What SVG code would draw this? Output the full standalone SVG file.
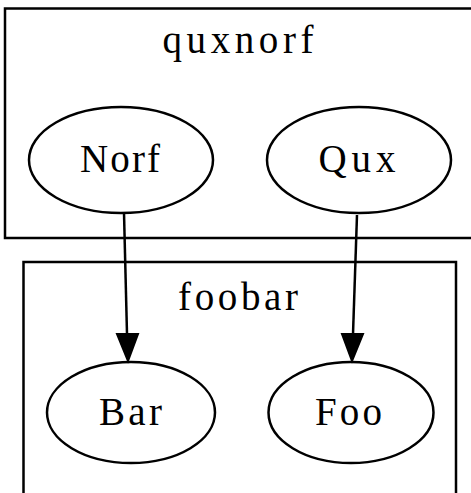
<svg xmlns="http://www.w3.org/2000/svg" width="471" height="493" viewBox="0 0 471 493">
<defs>
<style>
.cl{fill:none;stroke:#000;stroke-width:2.5}
.nd{fill:none;stroke:#000;stroke-width:2.5}
.t{font-family:"Liberation Serif","Times New Roman",serif;font-size:39px;fill:#000;text-anchor:middle}
.e{fill:none;stroke:#000;stroke-width:2.5}
.ah{fill:#000;stroke:#000;stroke-width:2}
</style>
</defs>
<rect width="471" height="493" fill="#fff"/>
<g id="cluster_quxnorf">
<rect class="cl" x="5" y="8.5" width="480" height="229.5"/>
<text class="t" x="238" y="53" textLength="151" lengthAdjust="spacing">quxnorf</text>
</g>
<g id="cluster_foobar">
<rect class="cl" x="23.5" y="262" width="432.5" height="245"/>
<text class="t" x="238" y="310" textLength="120" lengthAdjust="spacing">foobar</text>
</g>
<g id="connectors">
<path class="e" d="M124,213 L127,334"/>
<polygon class="ah" points="117,334 138,334 128,361"/>
<path class="e" d="M357,215 L353,334"/>
<polygon class="ah" points="342,334 363,334 352,361"/>
</g>
<g id="Norf">
<ellipse class="nd" cx="121" cy="160" rx="92" ry="53"/>
<text class="t" x="120" y="172" textLength="80" lengthAdjust="spacing">Norf</text>
</g>
<g id="Qux">
<ellipse class="nd" cx="359" cy="160" rx="92" ry="53"/>
<text class="t" x="357" y="172" textLength="77" lengthAdjust="spacing">Qux</text>
</g>
<g id="Bar">
<ellipse class="nd" cx="131" cy="412.5" rx="84" ry="50.5"/>
<text class="t" x="130.5" y="425" textLength="63" lengthAdjust="spacing">Bar</text>
</g>
<g id="Foo">
<ellipse class="nd" cx="351" cy="412.5" rx="82.5" ry="50.5"/>
<text class="t" x="348.5" y="425" textLength="67" lengthAdjust="spacing">Foo</text>
</g>
</svg>
